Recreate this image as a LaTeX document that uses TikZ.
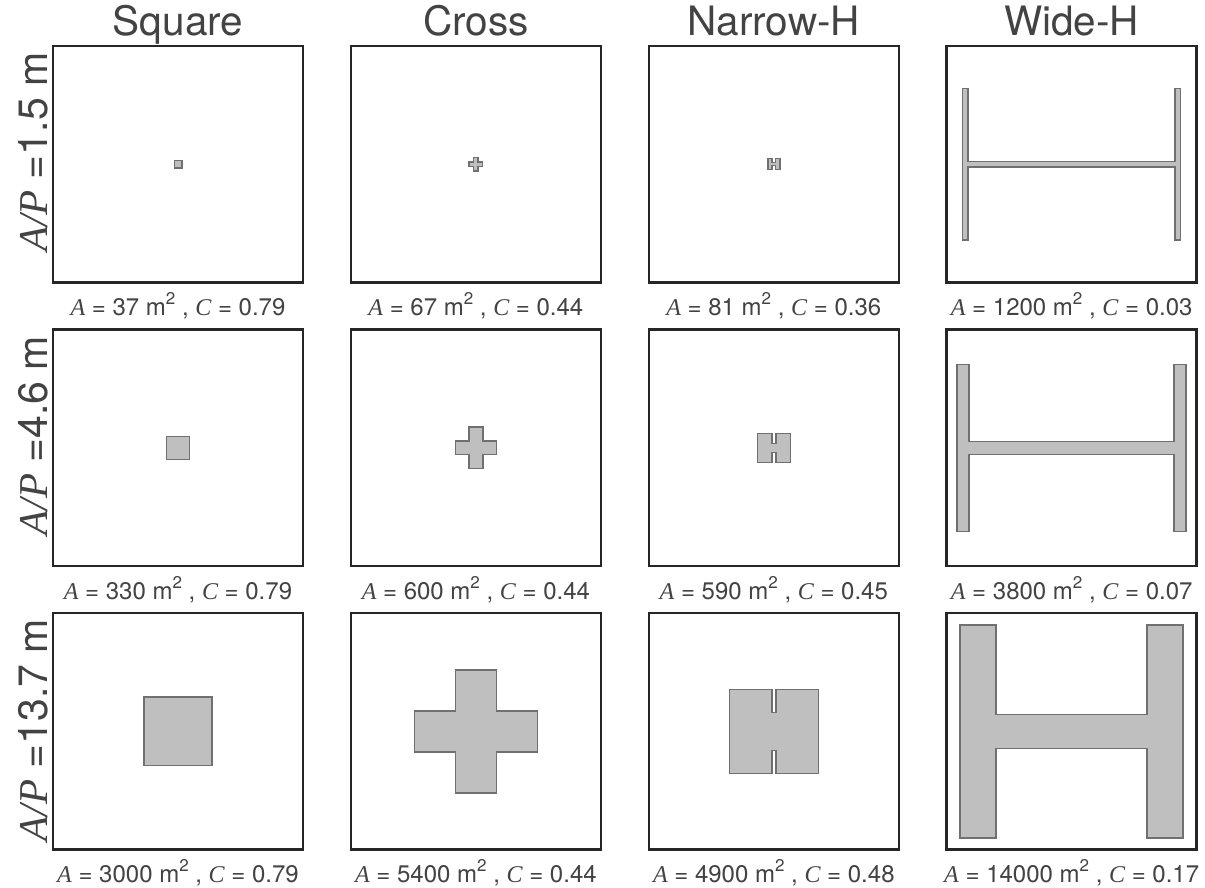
\documentclass[tikz,border=0pt]{standalone}
\usepackage{fontspec}
\setmainfont{TeX Gyre Heros}
\newfontfamily\tnrfont{Liberation Serif}
\usetikzlibrary{calc}
\definecolor{txtc}{HTML}{434343}
\definecolor{framec}{HTML}{262626}
\definecolor{shapefill}{HTML}{BFBFC0}
\definecolor{shapeedge}{HTML}{707070}
\newcommand{\vA}{{\tnrfont\itshape A}}
\newcommand{\vC}{{\tnrfont\itshape C}}
\newcommand{\vAP}{{\tnrfont\itshape A/P}}
\newcommand{\sqm}{m\raisebox{0.45em}{\fontsize{17}{17}\selectfont 2}}
\newcommand{\lbl}[2]{\vA{} = #1 \sqm{} , \vC{} = #2}
\tikzset{
  panel/.style={draw=framec, line width=2.5pt, minimum width=250pt, minimum height=236.5pt, inner sep=0pt, fill=white},
  bldg/.style={fill=shapefill, draw=shapeedge, line width=1.5pt, line join=miter},
  coltitle/.style={text=txtc, font=\fontsize{40.5}{48}\selectfont, anchor=base, inner sep=0pt},
  lab/.style={text=txtc, font=\fontsize{24}{28}\selectfont, anchor=base, inner sep=0pt},
  rowlab/.style={text=txtc, font=\fontsize{41}{48}\selectfont, anchor=base, inner sep=0pt, rotate=90},
}
\newcommand{\sqbld}[2]{%
  \begin{scope}[shift={(#1.center)}]
  \pgfmathsetmacro\myhs{#2/2}
  \draw[bldg] (-\myhs,-\myhs) rectangle (\myhs,\myhs);
  \end{scope}}
\newcommand{\crossbld}[2]{%
  \begin{scope}[shift={(#1.center)}]
  \pgfmathsetmacro\mya{#2/2}\pgfmathsetmacro\mye{3*#2/2}
  \draw[bldg] (-\mya,-\mye) -- (\mya,-\mye) -- (\mya,-\mya) -- (\mye,-\mya) -- (\mye,\mya) -- (\mya,\mya) -- (\mya,\mye) -- (-\mya,\mye) -- (-\mya,\mya) -- (-\mye,\mya) -- (-\mye,-\mya) -- (-\mya,-\mya) -- cycle;
  \end{scope}}
\newcommand{\nhbld}[5]{%
  \begin{scope}[shift={(#1.center)}]
  \pgfmathsetmacro\myhw{#2/2}\pgfmathsetmacro\myhh{#3/2}\pgfmathsetmacro\myhn{#4/2}\pgfmathsetmacro\myhd{#3/2-#5}
  \draw[bldg] (-\myhw,-\myhh) -- (-\myhn,-\myhh) -- (-\myhn,-\myhd) -- (\myhn,-\myhd) -- (\myhn,-\myhh) -- (\myhw,-\myhh) -- (\myhw,\myhh) -- (\myhn,\myhh) -- (\myhn,\myhd) -- (-\myhn,\myhd) -- (-\myhn,\myhh) -- (-\myhw,\myhh) -- cycle;
  \end{scope}}
\newcommand{\whbld}[5]{%
  \begin{scope}[shift={(#1.center)}]
  \pgfmathsetmacro\myhw{#2/2}\pgfmathsetmacro\myhh{#3/2}\pgfmathsetmacro\myil{#2/2-#4}\pgfmathsetmacro\myhb{#5/2}
  \draw[bldg] (-\myhw,-\myhh) -- (-\myil,-\myhh) -- (-\myil,-\myhb) -- (\myil,-\myhb) -- (\myil,-\myhh) -- (\myhw,-\myhh) -- (\myhw,\myhh) -- (\myil,\myhh) -- (\myil,\myhb) -- (-\myil,\myhb) -- (-\myil,\myhh) -- (-\myhw,\myhh) -- cycle;
  \end{scope}}
\begin{document}
\begin{tikzpicture}[x=1pt,y=-1pt]
\useasboundingbox (0,0) rectangle (1205,888);
\fill[white] (0,0) rectangle (1205,888);
% panels
\node[panel] (p11) at (178,164.25) {};
\node[panel] (p21) at (475.9,164.25) {};
\node[panel] (p31) at (773.8,164.25) {};
\node[panel] (p41) at (1071.7,164.25) {};
\node[panel] (p12) at (178,447.75) {};
\node[panel] (p22) at (475.9,447.75) {};
\node[panel] (p32) at (773.8,447.75) {};
\node[panel] (p42) at (1071.7,447.75) {};
\node[panel] (p13) at (178,731.25) {};
\node[panel] (p23) at (475.9,731.25) {};
\node[panel] (p33) at (773.8,731.25) {};
\node[panel] (p43) at (1071.7,731.25) {};
% buildings
\sqbld{p11}{7.5}
\crossbld{p21}{4.5}
\nhbld{p31}{12}{11}{3.5}{4}
\whbld{p41}{218}{151}{5.5}{5.5}
\sqbld{p12}{23}
\crossbld{p22}{13.7}
\nhbld{p32}{33}{29}{4}{10}
\whbld{p42}{229}{167}{12}{13}
\sqbld{p13}{68.3}
\crossbld{p23}{41}
\nhbld{p33}{89}{84}{4}{23}
\whbld{p43}{223}{213}{36}{34}
% column titles
\node[coltitle] (t1) at ($(p11.north)+(0,-9)$) {Square};
\node[coltitle] (t2) at ($(p21.north)+(0,-9)$) {Cross};
\node[coltitle] (t3) at ($(p31.north)+(0,-9)$) {Narrow-H};
\node[coltitle] (t4) at ($(p41.north)+(0,-9)$) {Wide-H};
% row labels
\node[rowlab] (r1) at ($(p11.west)+(-4,-12)$) {\vAP{} =1.5 m};
\node[rowlab] (r2) at ($(p12.west)+(-4,-12)$) {\vAP{} =4.6 m};
\node[rowlab] (r3) at ($(p13.west)+(-4,-1)$) {\vAP{} =13.7 m};
% labels
\node[lab] (l11) at ($(p11.south)+(0,32)$) {\lbl{37}{0.79}};
\node[lab] (l21) at ($(p21.south)+(0,32)$) {\lbl{67}{0.44}};
\node[lab] (l31) at ($(p31.south)+(0,32)$) {\lbl{81}{0.36}};
\node[lab] (l41) at ($(p41.south)+(0,32)$) {\lbl{1200}{0.03}};
\node[lab] (l12) at ($(p12.south)+(0,32)$) {\lbl{330}{0.79}};
\node[lab] (l22) at ($(p22.south)+(0,32)$) {\lbl{600}{0.44}};
\node[lab] (l32) at ($(p32.south)+(0,32)$) {\lbl{590}{0.45}};
\node[lab] (l42) at ($(p42.south)+(0,32)$) {\lbl{3800}{0.07}};
\node[lab] (l13) at ($(p13.south)+(0,32)$) {\lbl{3000}{0.79}};
\node[lab] (l23) at ($(p23.south)+(0,32)$) {\lbl{5400}{0.44}};
\node[lab] (l33) at ($(p33.south)+(0,32)$) {\lbl{4900}{0.48}};
\node[lab] (l43) at ($(p43.south)+(0,32)$) {\lbl{14000}{0.17}};
\end{tikzpicture}
\end{document}
